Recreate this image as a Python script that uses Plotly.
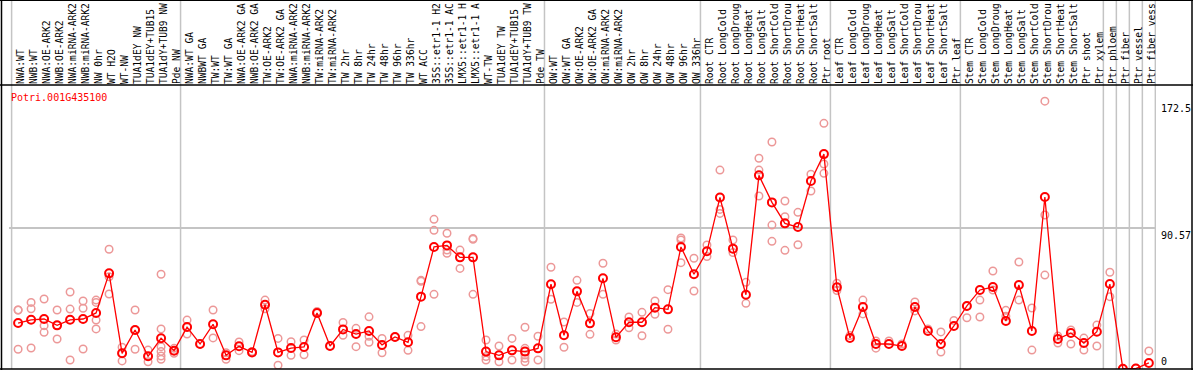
import plotly.graph_objects as go

labels = [
    "NWA:WT", "NWB:WT", "NWA:OE-ARK2", "NWB:OE-ARK2", "NWA:miRNA-ARK2", "NWB:miRNA-ARK2",
    "NW 0hr", "WT H2O", "WT-NW", "TUA1dEY NW", "TUA1dEY+TUB15", "TUA1dY+TUB9 NW", "Pde NW",
    "NWA:WT GA", "NWBWT GA", "TW:WT", "TW:WT GA", "NWA:OE-ARK2 GA", "NWB:OE-ARK2 GA",
    "TW:OE-ARK2", "TW:OE-ARK2 GA", "NWA:miRNA-ARK2", "NWB:miRNA-ARK2", "TW:miRNA-ARK2",
    "TW:miRNA-ARK2", "TW 2hr", "TW 8hr", "TW 24hr", "TW 48hr", "TW 96hr", "TW 336hr",
    "WT ACC", "35S::etr1-1 H2", "35S::etr1-1 AC", "LMX5::etr1-1 H", "LMX5::etr1-1 A",
    "WT-TW", "TUA1dEY TW", "TUA1dEY+TUB15", "TUA1dY+TUB9 TW", "Pde TW",
    "OW:WT", "OW:WT GA", "OW:OE-ARK2", "OW:OE-ARK2 GA", "OW:miRNA-ARK2", "OW:miRNA-ARK2",
    "OW 2hr", "OW 8hr", "OW 24hr", "OW 48hr", "OW 96hr", "OW 336hr",
    "Root CTR", "Root LongCold", "Root LongDroug", "Root LongHeat", "Root LongSalt",
    "Root ShortCold", "Root ShortDrou", "Root ShortHeat", "Root ShortSalt", "Ptr root",
    "Leaf CTR", "Leaf LongCold", "Leaf LongDroug", "Leaf LongHeat", "Leaf LongSalt",
    "Leaf ShortCold", "Leaf ShortDrou", "Leaf ShortHeat", "Leaf ShortSalt", "Ptr leaf",
    "Stem CTR", "Stem LongCold", "Stem LongDroug", "Stem LongHeat", "Stem LongSalt",
    "Stem ShortCold", "Stem ShortDrou", "Stem ShortHeat", "Stem ShortSalt", "Ptr shoot",
    "Ptr xylem", "Ptr phloem", "Ptr fiber", "Ptr vessel", "Ptr fiber vess",
]

means = [
    29.6, 31.7, 32.2, 28.1, 31.7, 32.2, 36.1, 61.6, 10.1, 25.1, 8.2, 19.8, 11.8,
    27.0, 16.1, 28.8, 8.8, 14.6, 10.7, 41.4, 10.7, 13.5, 14.2, 36.1, 14.8,
    25.5, 22.5, 24.5, 15.5, 20.6, 17.2,
    46.6, 78.6, 79.6, 71.9, 71.9, 11.2, 8.8, 12.0, 11.2, 13.3,
    54.6, 21.7, 50.0, 29.4, 58.4, 20.4, 30.1, 30.1, 39.5, 38.4, 78.6, 61.0,
    75.8, 110.5, 77.5, 47.8, 124.7, 107.3, 93.8, 91.4, 121.1, 138.4,
    52.6, 20.0, 39.9, 16.1, 16.1, 14.8, 39.9, 24.5, 16.1, 27.7,
    40.6, 50.9, 52.8, 30.9, 54.1, 24.5, 110.8, 19.3, 23.2, 16.7,
    24.0, 54.7, 0.2, 0.3, 3.9,
]

replicates = [
    [38.0, 38.0, 12.7], [42.9, 38.8, 13.5], [45.1, 27.9, 23.6], [38.0, 19.3, 28.1],
    [49.6, 38.6, 5.8], [43.8, 39.1, 12.9], [44.4, 42.9, 31.5, 25.8], [77.1, 59.4, 48.3],
    [14.0, 5.2, 10.1], [38.0, 12.7, 25.1], [12.2, 4.7, 8.2],
    [61.0, 25.8, 14.4, 11.2, 8.4, 6.2], [13.3, 10.1, 11.8],
    [31.5, 22.5, 27.0], [16.1], [38.0, 20.0], [10.5, 6.2], [17.4, 11.8], [11.2, 10.7],
    [44.4, 38.8], [19.7, 2.4], [17.6, 8.8], [18.7, 9.2], [37.0, 36.1], [14.8],
    [30.0, 21.7], [26.2, 14.4], [33.6, 21.1, 17.2], [19.7, 10.5], [20.6], [21.7, 12.0],
    [57.1, 56.5, 27.3], [96.4, 89.3, 48.1], [87.4, 76.6, 74.5], [76.6, 64.8],
    [84.1, 83.5, 48.1], [18.7, 5.8, 8.0], [14.8, 4.7], [19.7, 5.8],
    [26.9, 13.3, 9.0, 6.9, 4.7], [21.1, 5.8],
    [65.5, 44.9], [30.3, 14.0], [57.1, 42.9], [35.8, 22.3], [68.1, 48.1], [18.7, 22.5],
    [33.5, 26.6], [36.5, 21.4], [43.8, 35.2], [51.1, 25.6], [84.4, 83.1, 68.5], [71.3, 50.2],
    [79.9, 72.4], [128.1, 102.8, 100.2], [83.1, 75.0], [55.8, 42.3], [135.7, 128.1, 111.4],
    [146.2, 92.7, 82.2], [108.2, 98.1, 76.4], [100.9, 80.0], [125.4, 114.6],
    [158.2, 132.0, 126.0],
    [55.2, 50.5], [21.5], [44.4, 35.5], [18.0, 13.4], [18.0], [16.1],
    [43.2, 37.4], [25.8], [23.9, 10.9], [31.2],
    [40.6, 33.0], [44.4, 33.5], [63.1, 50.9], [37.8, 34.0], [68.9, 44.4],
    [39.3, 12.2], [172.5, 99.2, 60.5], [21.2, 16.7], [25.1, 16.1], [19.9, 12.2],
    [28.3, 14.8], [62.3, 46.6], [0.0], [0.5], [11.6],
]

W, H = 1194, 370
ML, MR, MT, MB = 9, 38, 85, 1
PW, PH = W - ML - MR, H - MT - MB
YMAX = 182.9


def px_x(p):
    return (p - ML) / PW


def px_y(p):
    return (H - MB - p) / PH


x_idx = list(range(len(labels)))
rep_x, rep_y = [], []
for i, vals in enumerate(replicates):
    for v in vals:
        rep_x.append(i)
        rep_y.append(v)

fig = go.Figure()
fig.add_trace(go.Scatter(
    x=rep_x, y=rep_y, mode="markers",
    marker=dict(symbol="circle-open", size=7.5, color="#ec9898", line=dict(width=1.5, color="#ec9898")),
    hoverinfo="skip", showlegend=False,
))
fig.add_trace(go.Scatter(
    x=x_idx, y=means, mode="lines+markers",
    line=dict(color="#ff0000", width=1.3),
    marker=dict(symbol="circle-open", size=8, color="#ff0000", line=dict(width=2, color="#ff0000")),
    showlegend=False,
))

group_bounds = [0, 13, 41, 53, 63, 73, 84, 85, 86, 87, 88]
shapes = []
for b in group_bounds:
    shapes.append(dict(type="line", xref="x", yref="paper", x0=b - 0.5, x1=b - 0.5,
                       y0=0, y1=px_y(0), line=dict(color="#c4c4c4", width=1.5), layer="below"))
# header separator and outer frame
shapes.append(dict(type="line", xref="paper", yref="paper", x0=px_x(0), x1=px_x(1193),
                   y0=1, y1=1, line=dict(color="black", width=1.5)))
shapes.append(dict(type="line", xref="paper", yref="paper", x0=px_x(0), x1=px_x(1193),
                   y0=px_y(369), y1=px_y(369), line=dict(color="black", width=1.5)))
shapes.append(dict(type="line", xref="paper", yref="paper", x0=px_x(0), x1=px_x(1193),
                   y0=px_y(0.5), y1=px_y(0.5), line=dict(color="black", width=1)))
shapes.append(dict(type="line", xref="paper", yref="paper", x0=px_x(1.5), x1=px_x(1.5),
                   y0=px_y(370), y1=px_y(0), line=dict(color="black", width=1.5)))
shapes.append(dict(type="line", xref="paper", yref="paper", x0=px_x(1192), x1=px_x(1192),
                   y0=px_y(370), y1=px_y(0), line=dict(color="black", width=1.5)))

mono = "DejaVu Sans Mono, Liberation Mono, monospace"
y_labels = [172.5, 90.57, 0]
y_label_text = ["172.5", "90.57", "0"]
annotations = [dict(xref="paper", yref="paper", x=0, y=1 - 5 / PH, xanchor="left", yanchor="top",
                    text="Potri.001G435100", showarrow=False,
                    font=dict(family=mono, size=10, color="#ff0000"))]
for v, t in zip(y_labels, y_label_text):
    annotations.append(dict(xref="paper", yref="y", x=1, y=v, xanchor="left",
                            yanchor="bottom" if v == 0 else "top", xshift=3,
                            text=t, showarrow=False, font=dict(family=mono, size=10, color="black")))

fig.update_layout(
    width=W, height=H,
    margin=dict(l=ML, r=MR, t=MT, b=MB, pad=0, autoexpand=False),
    paper_bgcolor="white", plot_bgcolor="white",
    shapes=shapes, annotations=annotations,
    xaxis=dict(side="top", range=[-0.7, 87.55], tickmode="array", tickvals=x_idx, ticktext=labels,
               tickangle=-90, ticks="", showgrid=False, zeroline=False, showline=False,
               automargin=False, ticklabelstandoff=0, ticklabelshift=3,
               tickfont=dict(family=mono, size=9.6, color="black"), fixedrange=True),
    yaxis=dict(range=[0, YMAX], tickmode="array", tickvals=[90.57], showticklabels=False,
               showgrid=True, gridcolor="#c4c4c4", gridwidth=1.5, zeroline=False, showline=False,
               automargin=False, ticks="", fixedrange=True),
    showlegend=False,
)

fig.write_html("out.html", config={"displayModeBar": False},
               post_script="document.body.style.margin='0';document.body.style.padding='0';")
